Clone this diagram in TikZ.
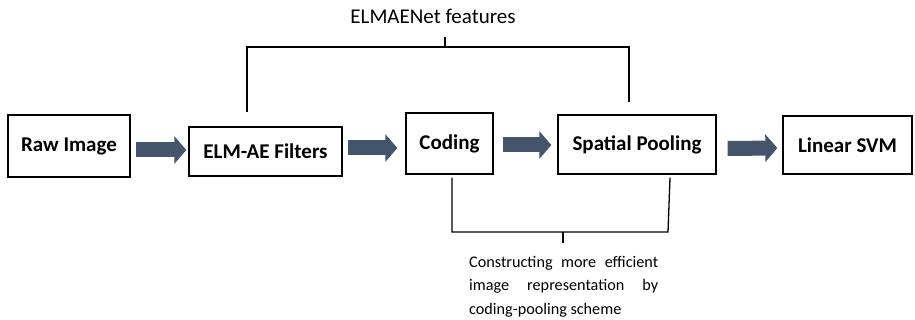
\documentclass[tikz,border=0pt]{standalone}
\usepackage{fontspec}
\setmainfont{Carlito}
\usetikzlibrary{arrows.meta,calc}
\definecolor{arrowcol}{HTML}{44546A}
\begin{document}
\begin{tikzpicture}[x=1pt,y=-1pt,
  box/.style={draw=black,line width=1.3pt,inner sep=0pt,font=\fontsize{21}{24}\selectfont\bfseries},
  bigarrow/.style={draw=arrowcol,line width=15pt,-{Triangle[length=12pt,width=27pt]},arrowcol},
  bracket/.style={draw=black,line width=1.3pt}]
\useasboundingbox (0,0) rectangle (915,320);
\node[box,minimum width=122pt,minimum height=62pt] (raw) at (69,146) {Raw Image};
\node[box,minimum width=153pt,minimum height=49pt] (elm) at (265.5,151.5) {ELM-AE Filters};
\node[box,minimum width=87pt,minimum height=61pt] (cod) at (449.5,143.5) {Coding};
\node[box,minimum width=158pt,minimum height=59pt] (spa) at (637,144.5) {Spatial Pooling};
\node[box,minimum width=129pt,minimum height=58pt] (svm) at (847.5,145) {Linear SVM};
\draw[bigarrow] ([shift={(5,4)}]raw.east) -- ([shift={(-2,-1.5)}]elm.west);
\draw[bigarrow] ([shift={(5,-3.5)}]elm.east) -- ([shift={(-8,4.5)}]cod.west);
\draw[bigarrow] ([shift={(9,1.5)}]cod.east) -- ([shift={(-6,0.5)}]spa.west);
\draw[bigarrow] ([shift={(11,4)}]spa.east) -- ([shift={(-5,3)}]svm.west);
% top bracket
\coordinate (tl) at ([shift={(-18.5,-14)}]elm.north);
\coordinate (tr) at ([shift={(-8,-12)}]spa.north);
\draw[bracket] (tl) -- (tl |- 0,47) -- (tr |- 0,47) -- (tr);
\coordinate (tt) at (445,47);
\draw[bracket] (tt) -- ++(0,-10);
\node[font=\fontsize{21}{24}\selectfont] (feat) at (433,16) {ELMAENet features};
% bottom bracket
\coordinate (bl) at ([shift={(2.5,3)}]cod.south);
\coordinate (br) at ([shift={(33,3)}]spa.south);
\draw[bracket] (bl) -- (bl |- 0,232) -- (668,232) -- (br);
\coordinate (bt) at (563,232);
\draw[bracket] (bt) -- ++(0,11);
\node[anchor=north west,inner sep=0pt,text width=189pt,align=justify,font=\fontsize{16.2}{23.5}\selectfont] (desc) at (469,256) {\hyphenpenalty=10000 \exhyphenpenalty=10000 Constructing more efficient image representation by coding-pooling scheme};
\end{tikzpicture}
\end{document}
